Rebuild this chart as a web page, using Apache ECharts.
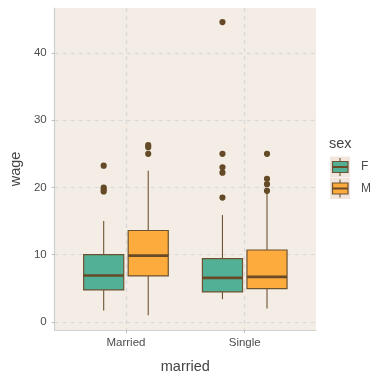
<!DOCTYPE html>
<html>
<head>
<meta charset="utf-8">
<script src="https://cdn.jsdelivr.net/npm/echarts@6/dist/echarts.min.js"></script>
<style>html,body{margin:0;padding:0;background:#fff;}#c{width:380px;height:380px;}</style>
</head>
<body>
<div id="c"></div>
<script>
// ---- data ----
const categories = ['Married', 'Single'];
const sexes = ['F', 'M'];
// [lower whisker, Q1, median, Q3, upper whisker] per category
const statsF = [[1.7, 4.76, 6.9, 10.0, 15.0], [3.38, 4.46, 6.55, 9.42, 15.9]];
const statsM = [[1.0, 6.85, 9.87, 13.6, 22.5], [1.98, 4.96, 6.7, 10.7, 19.2]];
const outliersF = [[23.25, 20.0, 19.7, 19.4], [44.6, 25.0, 23.0, 22.2, 18.5]];
const outliersM = [[26.3, 26.0, 25.0], [25.0, 21.3, 20.5, 19.5]];
const yTicks = [0, 10, 20, 30, 40];
const xTicks = [1, 2];

const colors = { F: '#52b096', M: '#fdab3d' };
const lineCol = '#6e5332';
const panelBg = '#f3ede6';
const gridCol = '#d9d9d9';
const font = 'Liberation Sans, Arial, sans-serif';

const dodge = [-0.1875, 0.1875];
const boxW = 0.3375;

function boxData(stats) {
  return stats.map((s, i) => [i + 1].concat(s));
}
function outData(outs) {
  const arr = [];
  outs.forEach((list, i) => list.forEach(v => arr.push([i + 1, v])));
  return arr;
}

function makeBoxRender(sIdx, color) {
  return function (params, api) {
    const x = api.value(0);
    const unit = api.size([1, 0])[0];
    const c = api.coord([x, api.value(3)]);
    const cx = c[0] + dodge[sIdx] * unit;
    const hw = boxW * unit / 2;
    const yLo = api.coord([x, api.value(1)])[1];
    const yQ1 = api.coord([x, api.value(2)])[1];
    const yMed = c[1];
    const yQ3 = api.coord([x, api.value(4)])[1];
    const yHi = api.coord([x, api.value(5)])[1];
    return {
      type: 'group',
      children: [
        { type: 'line', shape: { x1: cx, y1: yHi, x2: cx, y2: yQ3 }, style: { stroke: lineCol, lineWidth: 1.1 } },
        { type: 'line', shape: { x1: cx, y1: yQ1, x2: cx, y2: yLo }, style: { stroke: lineCol, lineWidth: 1.1 } },
        { type: 'rect', shape: { x: cx - hw, y: yQ3, width: hw * 2, height: yQ1 - yQ3 }, style: { fill: color, stroke: lineCol, lineWidth: 1.2 } },
        { type: 'line', shape: { x1: cx - hw, y1: yMed, x2: cx + hw, y2: yMed }, style: { stroke: '#684a26', lineWidth: 2.6 } }
      ]
    };
  };
}
function makeOutRender(sIdx) {
  return function (params, api) {
    const x = api.value(0);
    const unit = api.size([1, 0])[0];
    const p = api.coord([x, api.value(1)]);
    return { type: 'circle', shape: { cx: p[0] + dodge[sIdx] * unit, cy: p[1], r: 3.1 }, style: { fill: '#654a27' } };
  };
}

const chart = echarts.init(document.getElementById('c'), null, { renderer: 'canvas' });

function legendGraphics() {
  const items = [];
  items.push({ type: 'text', left: 329, top: 136, style: { text: 'sex', font: '14.5px ' + font, fill: '#444' } });
  sexes.forEach((s, i) => {
    const cy = 167 + i * 21.5;
    items.push({ type: 'rect', shape: { x: 330, y: cy - 10.5, width: 20, height: 21 }, style: { fill: '#f0e6de' } });
    items.push({ type: 'line', shape: { x1: 340, y1: cy - 9, x2: 340, y2: cy + 9 }, style: { stroke: lineCol, lineWidth: 1.1 } });
    items.push({ type: 'rect', shape: { x: 332.5, y: cy - 5.5, width: 15.5, height: 11 }, style: { fill: colors[s], stroke: lineCol, lineWidth: 1.2 } });
    items.push({ type: 'line', shape: { x1: 332.5, y1: cy, x2: 348, y2: cy }, style: { stroke: '#684a26', lineWidth: 2 } });
    items.push({ type: 'text', x: 361, y: cy, style: { text: s, font: '12px ' + font, fill: '#4d4d4d', textVerticalAlign: 'middle' } });
  });
  return items;
}

chart.setOption({
  backgroundColor: '#ffffff',
  animation: false,
  grid: { left: 52, right: 64, top: 8, bottom: 50, show: true, backgroundColor: panelBg, borderWidth: 0 },
  xAxis: {
    type: 'value', min: 0.4, max: 2.6,
    name: 'married', nameLocation: 'middle', nameGap: 29,
    nameTextStyle: { fontSize: 14.5, color: '#444', fontFamily: font },
    axisLine: { show: true, onZero: false, lineStyle: { color: '#cfcfcf', width: 1.2 } },
    axisTick: { show: true, length: 3, customValues: xTicks, lineStyle: { color: '#bdbdbd' } },
    axisLabel: { customValues: xTicks, margin: 7, fontSize: 11.5, color: '#4d4d4d', fontFamily: font,
      formatter: v => categories[Math.round(v) - 1] || '' },
    splitLine: { show: true, lineStyle: { color: gridCol, type: [4, 4], width: 1.2 } }
  },
  yAxis: {
    type: 'value', min: -1.2, max: 46.7,
    name: 'wage', nameLocation: 'middle', nameGap: 29, nameRotate: 90,
    nameTextStyle: { fontSize: 14.5, color: '#444', fontFamily: font },
    axisLine: { show: true, onZero: false, lineStyle: { color: '#cfcfcf', width: 1.2 } },
    axisTick: { show: true, length: 3, customValues: yTicks, lineStyle: { color: '#bdbdbd' } },
    axisLabel: { customValues: yTicks, margin: 8, fontSize: 11.5, color: '#4d4d4d', fontFamily: font },
    splitLine: { show: true, lineStyle: { color: gridCol, type: [4, 4], width: 1.2 } }
  },
  series: [
    { type: 'custom', name: 'F', renderItem: makeBoxRender(0, colors.F), data: boxData(statsF), encode: { x: 0, y: [1, 2, 3, 4, 5] }, z: 2 },
    { type: 'custom', name: 'M', renderItem: makeBoxRender(1, colors.M), data: boxData(statsM), encode: { x: 0, y: [1, 2, 3, 4, 5] }, z: 2 },
    { type: 'custom', name: 'F out', renderItem: makeOutRender(0), data: outData(outliersF), encode: { x: 0, y: 1 }, z: 3 },
    { type: 'custom', name: 'M out', renderItem: makeOutRender(1), data: outData(outliersM), encode: { x: 0, y: 1 }, z: 3 }
  ],
  graphic: legendGraphics()
});
</script>
</body>
</html>
